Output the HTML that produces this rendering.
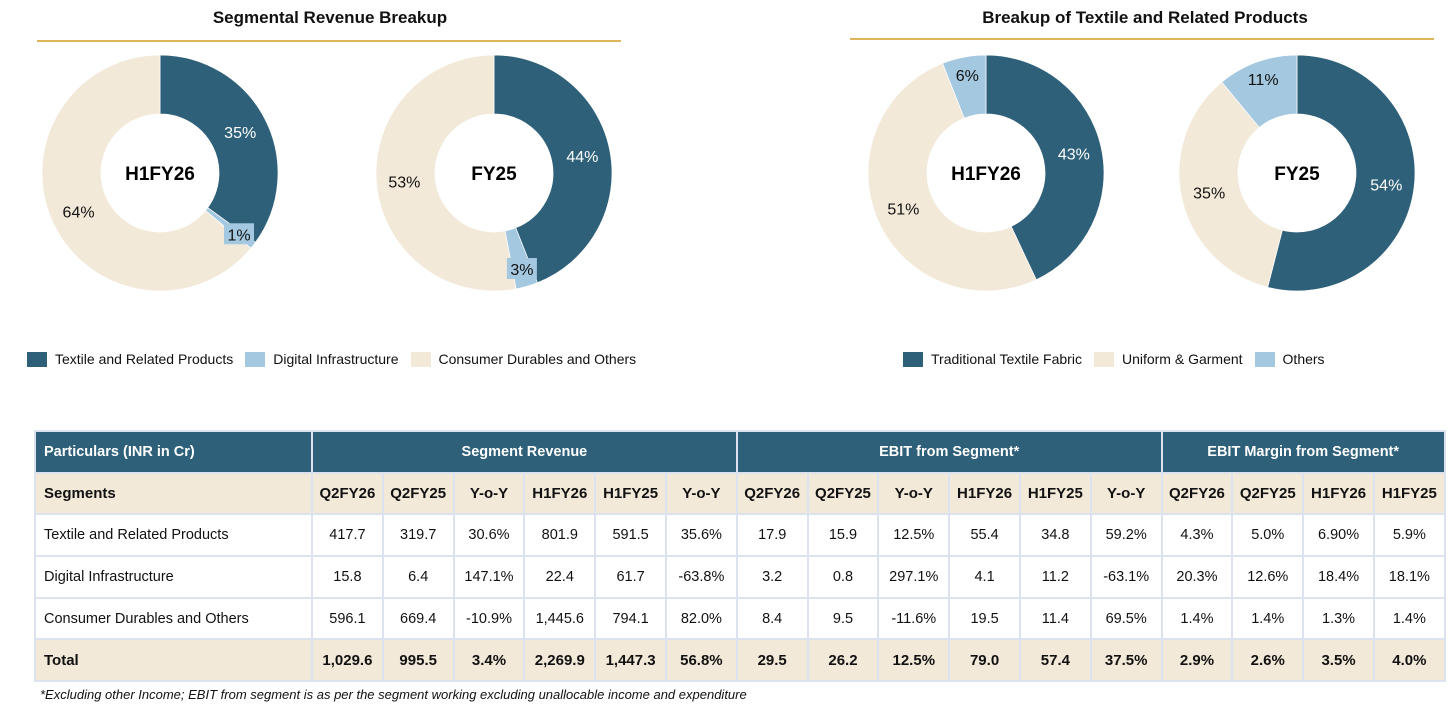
<!DOCTYPE html>
<html><head><meta charset="utf-8"><style>
body{margin:0;width:1456px;height:724px;background:#fff;font-family:"Liberation Sans",sans-serif;color:#111;position:relative;overflow:hidden}
.title{position:absolute;font-weight:bold;font-size:17px;text-align:center}
.rule{position:absolute;height:2px;background:#e0b458}
.leg{position:absolute;top:351px;font-size:14px;display:flex;align-items:center;white-space:nowrap}
.sw{display:inline-block;width:20px;height:15px;margin-right:8px}
table{position:absolute;left:34px;top:430px;border-collapse:collapse;font-size:14.5px;table-layout:fixed}
td{border:2px solid #dce3ee;text-align:center;height:39.7px;padding:0}
tr.h td{background:#2e6079;color:#fff;font-weight:bold;border-color:#dce3ee}
tr.s td,tr.t td{background:#f3e9d9;font-weight:bold;font-size:15px}
td.l{text-align:left;padding-left:8px}
.foot{position:absolute;left:40px;top:687px;font-size:13px;font-style:italic}
</style></head><body>
<div class="title" style="left:40px;top:8px;width:580px">Segmental Revenue Breakup</div>
<div class="rule" style="left:37px;top:40px;width:584px"></div>
<div class="title" style="left:850px;top:8px;width:590px">Breakup of Textile and Related Products</div>
<div class="rule" style="left:850px;top:38px;width:584px"></div>
<svg id="donuts" width="1456" height="330" style="position:absolute;left:0;top:0"></svg>
<div class="leg" style="left:27px">
<span class="sw" style="background:#2e6079"></span>Textile and Related Products<span style="width:12px"></span>
<span class="sw" style="background:#a3c8e0"></span>Digital Infrastructure<span style="width:12px"></span>
<span class="sw" style="background:#f3e9d9"></span>Consumer Durables and Others</div>
<div class="leg" style="left:903px">
<span class="sw" style="background:#2e6079"></span>Traditional Textile Fabric<span style="width:12px"></span>
<span class="sw" style="background:#f3e9d9"></span>Uniform &amp; Garment<span style="width:12px"></span>
<span class="sw" style="background:#a3c8e0"></span>Others</div>
<table>
<colgroup><col style="width:277px"><col span="16" style="width:70.8px"></colgroup>
<tr class="h"><td class="l">Particulars (INR in Cr)</td><td colspan="6">Segment Revenue</td><td colspan="6">EBIT from Segment*</td><td colspan="4">EBIT Margin from Segment*</td></tr>
<tr class="s"><td class="l">Segments</td><td>Q2FY26</td><td>Q2FY25</td><td>Y-o-Y</td><td>H1FY26</td><td>H1FY25</td><td>Y-o-Y</td><td>Q2FY26</td><td>Q2FY25</td><td>Y-o-Y</td><td>H1FY26</td><td>H1FY25</td><td>Y-o-Y</td><td>Q2FY26</td><td>Q2FY25</td><td>H1FY26</td><td>H1FY25</td></tr>
<tr><td class="l">Textile and Related Products</td><td>417.7</td><td>319.7</td><td>30.6%</td><td>801.9</td><td>591.5</td><td>35.6%</td><td>17.9</td><td>15.9</td><td>12.5%</td><td>55.4</td><td>34.8</td><td>59.2%</td><td>4.3%</td><td>5.0%</td><td>6.90%</td><td>5.9%</td></tr>
<tr><td class="l">Digital Infrastructure</td><td>15.8</td><td>6.4</td><td>147.1%</td><td>22.4</td><td>61.7</td><td>-63.8%</td><td>3.2</td><td>0.8</td><td>297.1%</td><td>4.1</td><td>11.2</td><td>-63.1%</td><td>20.3%</td><td>12.6%</td><td>18.4%</td><td>18.1%</td></tr>
<tr><td class="l">Consumer Durables and Others</td><td>596.1</td><td>669.4</td><td>-10.9%</td><td>1,445.6</td><td>794.1</td><td>82.0%</td><td>8.4</td><td>9.5</td><td>-11.6%</td><td>19.5</td><td>11.4</td><td>69.5%</td><td>1.4%</td><td>1.4%</td><td>1.3%</td><td>1.4%</td></tr>
<tr class="t"><td class="l">Total</td><td>1,029.6</td><td>995.5</td><td>3.4%</td><td>2,269.9</td><td>1,447.3</td><td>56.8%</td><td>29.5</td><td>26.2</td><td>12.5%</td><td>79.0</td><td>57.4</td><td>37.5%</td><td>2.9%</td><td>2.6%</td><td>3.5%</td><td>4.0%</td></tr>
</table>
<div class="foot">*Excluding other Income; EBIT from segment is as per the segment working excluding unallocable income and expenditure</div>
<script>
const donutTitles=["H1FY26","FY25","H1FY26","FY25"];
const seriesA=[35,1,64];
const seriesB=[44,3,53];
const seriesC=[43,51,6];
const seriesD=[54,35,11];
const colorsLeft=["#2e6079","#a3c8e0","#f3e9d9"];
const colorsRight=["#2e6079","#f3e9d9","#a3c8e0"];
const centersX=[160,494,986,1297];
const cy=173,R=118,r=59;
const all=[seriesA,seriesB,seriesC,seriesD];
const svg=document.getElementById('donuts');
const NS="http://www.w3.org/2000/svg";
function pt(a,rad,cx){return [cx+rad*Math.sin(a),cy-rad*Math.cos(a)];}
const labels=[];
all.forEach((vals,i)=>{
  const cx=centersX[i];const cols=i<2?colorsLeft:colorsRight;
  const tot=vals.reduce((a,b)=>a+b,0);let acc=0;
  vals.forEach((v,j)=>{
    const a0=acc/tot*2*Math.PI;acc+=v;const a1=acc/tot*2*Math.PI;
    const big=(a1-a0)>Math.PI?1:0;
    const p0=pt(a0,R,cx),p1=pt(a1,R,cx),q1=pt(a1,r,cx),q0=pt(a0,r,cx);
    const p=document.createElementNS(NS,'path');
    p.setAttribute('d',`M${p0}A${R},${R} 0 ${big} 1 ${p1}L${q1}A${r},${r} 0 ${big} 0 ${q0}Z`);
    p.setAttribute('fill',cols[j]);p.setAttribute('stroke','#fff');p.setAttribute('stroke-width','0.7');
    
    
    svg.appendChild(p);
    const am=(a0+a1)/2;const small=v<12;
    labels.push({lp:pt(am,small?100:90,cx),v:v,dark:cols[j]==="#2e6079",box:small&&i<2});
  });
  const c=document.createElementNS(NS,'text');
  c.setAttribute('x',cx);c.setAttribute('y',cy+7);c.setAttribute('text-anchor','middle');
  c.setAttribute('font-size','19');c.setAttribute('font-weight','bold');
  
  
  c.textContent=donutTitles[i];svg.appendChild(c);
});
labels.forEach(L=>{
  const lp=L.lp;
  if(L.box){const b=document.createElementNS(NS,'rect');
    b.setAttribute('x',lp[0]-15);b.setAttribute('y',lp[1]-11);b.setAttribute('width',30);b.setAttribute('height',21);
    b.setAttribute('fill','#a3c8e0');
    
    
    svg.appendChild(b);}
  const t=document.createElementNS(NS,'text');
  t.setAttribute('x',lp[0]);t.setAttribute('y',lp[1]+6);t.setAttribute('text-anchor','middle');
  t.setAttribute('font-size','16');t.setAttribute('fill',L.dark?'#fff':'#111');
  
  
  t.textContent=L.v+'%';svg.appendChild(t);
});
</script>
</body></html>
